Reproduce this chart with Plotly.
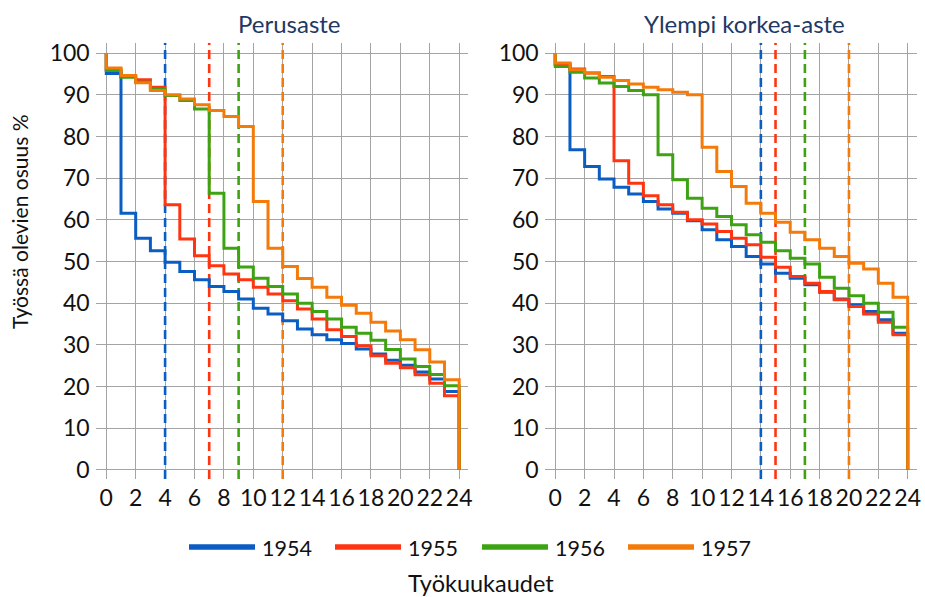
import plotly.graph_objects as go

# ---------------- data ----------------
years = ["1954", "1955", "1956", "1957"]
colors = ["#0A5DC2", "#FF3410", "#3DA312", "#F47A0A"]

month_starts = list(range(24))   # level holds from month i to i+1
START_VALUE = 100
END_MONTH = 24
END_VALUE = 0

# Perusaste (left panel)
left_1954 = [95.1, 61.6, 55.6, 52.6, 49.8, 47.6, 45.6, 44.0, 42.8, 41.0, 38.8, 37.4,
             35.8, 33.8, 32.4, 31.2, 30.3, 29.0, 27.8, 26.3, 25.1, 23.5, 21.8, 18.8]
left_1955 = [96.0, 94.4, 93.6, 91.8, 63.6, 55.4, 51.4, 49.0, 47.0, 45.6, 43.8, 42.2,
             40.6, 38.6, 36.2, 33.6, 32.0, 29.8, 27.4, 25.6, 24.5, 22.8, 20.8, 17.8]
left_1956 = [95.8, 94.2, 93.0, 91.4, 89.8, 88.6, 86.6, 66.4, 53.2, 48.7, 46.0, 44.0,
             42.2, 40.0, 38.0, 36.2, 34.2, 32.8, 31.1, 28.9, 26.6, 24.8, 22.9, 20.2]
left_1957 = [96.4, 94.6, 92.9, 91.0, 90.0, 89.0, 87.6, 86.2, 84.8, 82.4, 64.4, 53.2,
             48.8, 45.9, 43.8, 41.4, 39.5, 37.6, 35.4, 33.3, 31.2, 28.8, 25.9, 21.6]

# Ylempi korkea-aste (right panel)
right_1954 = [97.2, 76.8, 72.8, 69.8, 67.8, 66.2, 64.4, 62.6, 61.6, 59.8, 57.6, 55.2,
              53.6, 51.2, 49.4, 47.2, 46.0, 44.4, 42.6, 41.0, 39.6, 38.0, 36.0, 32.8]
right_1955 = [97.4, 96.2, 95.2, 94.4, 74.2, 68.8, 65.8, 63.6, 61.8, 60.0, 59.0, 57.2,
              55.6, 54.0, 51.0, 48.6, 46.4, 44.8, 42.8, 40.8, 39.2, 37.4, 35.4, 32.4]
right_1956 = [96.8, 95.4, 94.0, 92.8, 92.0, 91.0, 90.0, 75.6, 69.6, 65.2, 62.8, 60.8,
              58.8, 56.4, 54.6, 52.6, 50.8, 49.4, 46.2, 43.6, 41.8, 40.0, 37.8, 34.2]
right_1957 = [97.6, 96.0, 95.2, 94.2, 93.4, 92.6, 91.8, 91.2, 90.6, 90.0, 77.4, 71.6,
              68.0, 64.0, 61.6, 59.4, 57.0, 55.2, 53.2, 51.2, 49.6, 48.2, 44.8, 41.4]

# median (dashed) markers in months
left_medians = [4, 7, 9, 12]
right_medians = [14, 15, 17, 20]

panel_titles = ["Perusaste", "Ylempi korkea-aste"]
y_title = "Työssä olevien osuus %"
x_title = "Työkuukaudet"
x_ticks = list(range(0, 25, 2))
y_ticks = list(range(0, 101, 10))

# ---------------- figure ----------------
W, H = 925, 597
FONT = "Lato, 'Open Sans', sans-serif"
TITLE_COLOR = "#1F3864"
GRID = "#A4A4A4"
TEXT = "#111111"

xr = [-0.72, 24.6]
yr = [-2.2, 102.5]

fig = go.Figure()

panels = [
    ("x", "y", [left_1954, left_1955, left_1956, left_1957], left_medians),
    ("x2", "y2", [right_1954, right_1955, right_1956, right_1957], right_medians),
]

for xa, ya, series, medians in panels:
    # dashed median lines first (drawn beneath the step curves, above the grid)
    for col, m in zip(colors, medians):
        fig.add_trace(go.Scatter(
            x=[m, m], y=yr, mode="lines", line=dict(color=col, width=2.6, dash="9px,5px"),
            showlegend=False, xaxis=xa, yaxis=ya, hoverinfo="skip", cliponaxis=True))
    for name, col, vals in zip(years, colors, series):
        xs = [month_starts[0]] + month_starts + [END_MONTH]
        ys = [START_VALUE] + vals + [END_VALUE]
        fig.add_trace(go.Scatter(
            x=xs, y=ys, mode="lines", line=dict(color=col, width=3, shape="hv"),
            name=name, showlegend=False, xaxis=xa, yaxis=ya, hoverinfo="skip"))


def px_x(p):
    return p / W


def px_y(p):
    return 1 - p / H


ydom = [px_y(479), px_y(42.7)]
axis_x = dict(showgrid=True, gridcolor=GRID, gridwidth=1, zeroline=False, showline=False,
              ticks="", ticklabelstandoff=3, tickfont=dict(family=FONT, size=23, color=TEXT))
axis_y = dict(showgrid=True, gridcolor=GRID, gridwidth=1, zeroline=False, showline=False,
              ticks="", ticklabelstandoff=5, tickfont=dict(family=FONT, size=23, color=TEXT))

fig.update_layout(
    width=W, height=H,
    margin=dict(l=0, r=0, t=0, b=0, autoexpand=False),
    paper_bgcolor="white", plot_bgcolor="white",
    showlegend=False,
    xaxis=dict(domain=[px_x(95.7), px_x(468)], range=xr, tickvals=x_ticks, anchor="y", **axis_x),
    yaxis=dict(domain=ydom, range=yr, tickvals=y_ticks, anchor="x", **axis_y),
    xaxis2=dict(domain=[px_x(544.7), px_x(916.5)], range=xr, tickvals=x_ticks, anchor="y2", **axis_x),
    yaxis2=dict(domain=ydom, range=yr, tickvals=y_ticks, anchor="x2", **axis_y),
)

# panel titles
fig.add_annotation(text=panel_titles[0], xref="paper", yref="paper", x=px_x(289), y=px_y(23),
                   showarrow=False, font=dict(family=FONT, size=24, color=TITLE_COLOR),
                   xanchor="center", yanchor="middle")
fig.add_annotation(text=panel_titles[1], xref="paper", yref="paper", x=px_x(744), y=px_y(23),
                   showarrow=False, font=dict(family=FONT, size=24, color=TITLE_COLOR),
                   xanchor="center", yanchor="middle")

# axis titles
fig.add_annotation(text=y_title, xref="paper", yref="paper", x=px_x(19), y=px_y(222),
                   showarrow=False, textangle=-90, font=dict(family=FONT, size=21, color=TEXT),
                   xanchor="center", yanchor="middle")
fig.add_annotation(text=x_title, xref="paper", yref="paper", x=px_x(481), y=px_y(583),
                   showarrow=False, font=dict(family=FONT, size=23.5, color=TEXT),
                   xanchor="center", yanchor="middle")

# legend (manual)
leg_line_x = [189, 335, 482, 628]
LEG_Y = 547
for name, col, lx in zip(years, colors, leg_line_x):
    fig.add_shape(type="line", xref="paper", yref="paper", x0=px_x(lx), x1=px_x(lx + 66),
                  y0=px_y(LEG_Y), y1=px_y(LEG_Y), line=dict(color=col, width=5.5))
    fig.add_annotation(text=name, xref="paper", yref="paper", x=px_x(lx + 71), y=px_y(LEG_Y + 1),
                       showarrow=False, font=dict(family=FONT, size=21.5, color=TEXT),
                       xanchor="left", yanchor="middle")

fig.write_html("out.html", config={"displayModeBar": False},
               post_script="document.body.style.margin='0';")
